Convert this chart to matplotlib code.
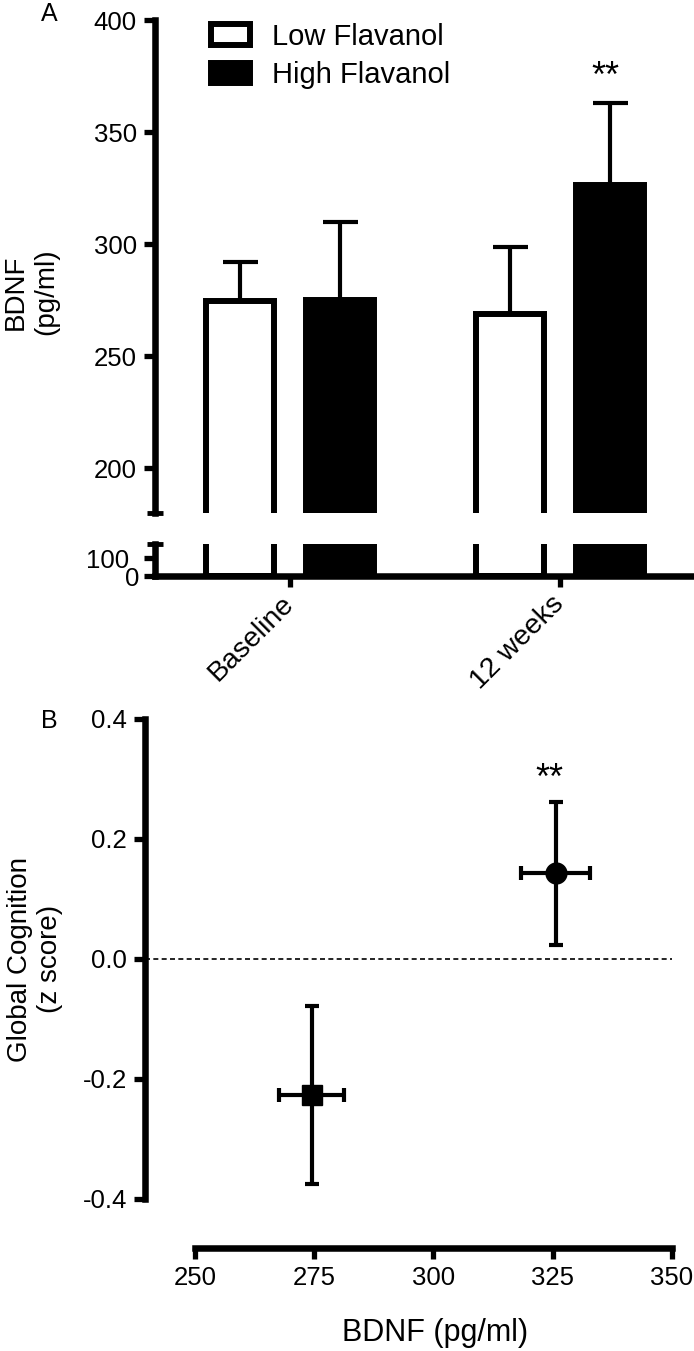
import matplotlib
matplotlib.use('Agg')
import matplotlib.pyplot as plt
import matplotlib.transforms as mtransforms
import numpy as np

plt.rcParams['font.family'] = ['Liberation Sans', 'DejaVu Sans']
plt.rcParams['axes.unicode_minus'] = False

# ─── data ─────────────────────────────────────────────────────────────────────
groups = ['Baseline', '12 weeks']
low_mean = [274.7, 269.0]
low_sem = [17.1, 29.7]
high_mean = [275.0, 326.5]
high_sem = [34.9, 36.6]

# panel B: low flavanol (square) then high flavanol (circle)
bdnf_mean = [274.5, 325.6]
bdnf_sem = [6.8, 7.3]
cog_mean = [-0.227, 0.143]
cog_sem = [0.149, 0.119]
markers = ['s', 'o']

W, H = 694, 1351
fig = plt.figure(figsize=(W / 100, H / 100), dpi=100)


def px_axes(left, top, right, bottom):
    return fig.add_axes([left / W, 1 - bottom / H, (right - left) / W, (bottom - top) / H])


ax_top = px_axes(155, 20, 694.6, 513)
ax_bot = px_axes(155, 544.3, 694.6, 576)
ax_b = px_axes(145, 719, 672, 1248)

SP = 4.7
tick_kw = dict(direction='out', length=8, width=3.8, labelsize=18.5, pad=5)

# ─── panel A (broken axis) ────────────────────────────────────────────────────
x = np.arange(len(groups))
off, bw = 0.185, 0.252
for ax in (ax_top, ax_bot):
    ax.bar(x - off, low_mean, bw, color='white', edgecolor='black',
           linewidth=4.3, label='Low Flavanol', zorder=2)
    ax.bar(x + off, high_mean, bw, color='black', edgecolor='black',
           linewidth=4.3, label='High Flavanol', zorder=2)
    ax.set_xlim(-0.5, 1.5)
    ax.spines['top'].set_visible(False)
    ax.spines['right'].set_visible(False)
    ax.spines['left'].set_linewidth(SP)
    ax.spines['bottom'].set_linewidth(SP)
    ax.tick_params(**tick_kw)

ekw = dict(fmt='none', ecolor='black', elinewidth=3, capsize=12.6, capthick=3, zorder=1)
ax_top.errorbar(x - off, low_mean, yerr=[np.zeros(2), low_sem], **ekw)
ax_top.errorbar(x + off, high_mean, yerr=[np.zeros(2), high_sem], **ekw)

ax_top.set_ylim(180, 400)
ax_top.set_yticks([200, 250, 300, 350, 400])
ax_top.spines['bottom'].set_visible(False)
ax_top.set_xticks([])
ax_top.plot([-0.528, -0.472], [180, 180], color='black', lw=3.5, clip_on=False,
            solid_capstyle='butt')

ax_bot.set_ylim(0, 180)
ax_bot.set_yticks([0, 100])
ax_bot.plot([-0.528, -0.472], [180, 180], color='black', lw=3.5, clip_on=False,
            solid_capstyle='butt')
ax_bot.set_xticks(x)
ax_bot.set_xticklabels(groups, rotation=45, ha='right', va='center',
                       rotation_mode='anchor', fontsize=20.5)
ax_bot.tick_params(axis='x', pad=9)
ax_bot.tick_params(axis='y', pad=3)
lab100 = ax_bot.get_yticklabels()[1]
lab100.set_transform(lab100.get_transform() +
                     mtransforms.ScaledTranslation(-0.11, 0, fig.dpi_scale_trans))

ax_top.text(x[1] + off - 0.015, high_mean[1] + high_sem[1] + 7, '**',
            ha='center', va='baseline', fontsize=26)

ax_top.legend(loc='upper left', bbox_to_anchor=(211 / W, 1 - 23 / H),
              bbox_transform=fig.transFigure, frameon=False, fontsize=21,
              handlelength=1.34, handleheight=0.72, handletextpad=0.75,
              labelspacing=0.35, borderpad=0, borderaxespad=0)

fig.text(31 / W, 1 - 292 / H, 'BDNF\n(pg/ml)', rotation=90, ha='center',
         va='center', fontsize=20, multialignment='center')
fig.text(49 / W, 1 - 14 / H, 'A', ha='center', va='center', fontsize=18)

# ─── panel B ──────────────────────────────────────────────────────────────────
ax_b.axhline(0, color='black', lw=1.2, ls=(0, (3, 2)), zorder=1)
for i in range(len(bdnf_mean)):
    ax_b.errorbar(bdnf_mean[i], cog_mean[i], xerr=bdnf_sem[i], yerr=cog_sem[i],
                  fmt=markers[i], ms=14.5 if markers[i] == 's' else 15,
                  color='black', elinewidth=3, capsize=4.7, capthick=3, zorder=3)

ax_b.set_xlim(239.54, 350)
ax_b.set_ylim(-0.482, 0.4)
ax_b.spines['top'].set_visible(False)
ax_b.spines['right'].set_visible(False)
ax_b.spines['left'].set_linewidth(SP)
ax_b.spines['bottom'].set_linewidth(SP)
ax_b.spines['left'].set_bounds(-0.4, 0.4)
ax_b.spines['bottom'].set_bounds(250, 350)
ax_b.set_xticks([250, 275, 300, 325, 350])
ax_b.set_yticks([-0.4, -0.2, 0.0, 0.2, 0.4])
ax_b.set_yticklabels(['-0.4', '-0.2', '0.0', '0.2', '0.4'])
ax_b.tick_params(**tick_kw)

ax_b.text(bdnf_mean[1] - 1.3, cog_mean[1] + cog_sem[1] + 0.022, '**',
          ha='center', va='baseline', fontsize=26)

fig.text(435 / W, 1 - 1333 / H, 'BDNF (pg/ml)', ha='center', va='center', fontsize=22)
fig.text(35 / W, 1 - 959 / H, 'Global Cognition\n(z score)', rotation=90,
         ha='center', va='center', fontsize=20, multialignment='center')
fig.text(49 / W, 1 - 721 / H, 'B', ha='center', va='center', fontsize=18)

fig.savefig('out.png', dpi=100)
